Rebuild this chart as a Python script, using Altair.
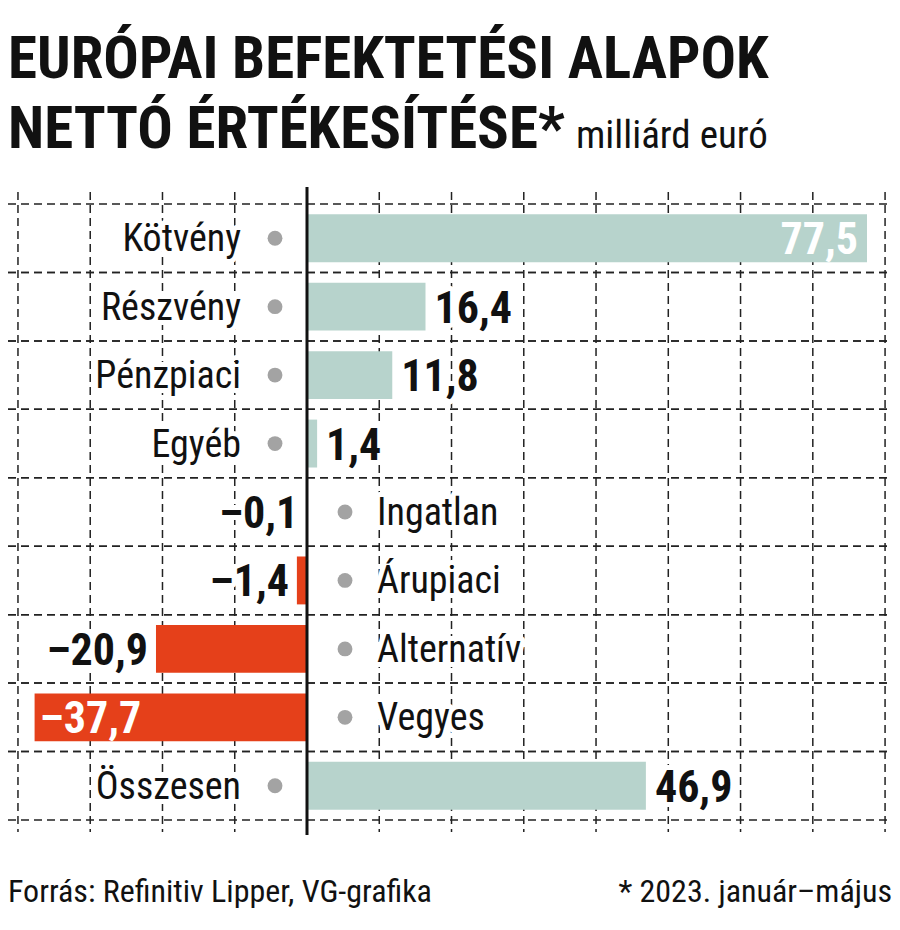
import altair as alt
import pandas as pd

categories = ["Kötvény", "Részvény", "Pénzpiaci", "Egyéb", "Ingatlan",
              "Árupiaci", "Alternatív", "Vegyes", "Összesen"]
values = [77.5, 16.4, 11.8, 1.4, -0.1, -1.4, -20.9, -37.7, 46.9]
value_labels = ["77,5", "16,4", "11,8", "1,4", "–0,1", "–1,4", "–20,9", "–37,7", "46,9"]
grid_ticks = [-40, -30, -20, -10, 0, 10, 20, 30, 40, 50, 60, 70, 80]

title_lines = ["EURÓPAI BEFEKTETÉSI ALAPOK", "NETTÓ ÉRTÉKESÍTÉSE*"]
unit_text = "milliárd euró"
source_text = "Forrás: Refinitiv Lipper, VG-grafika"
note_text = "* 2023. január–május"

TEAL = "#b7d3cc"
ORANGE = "#e5401a"
DOT = "#a3a3a3"
INK = "#111111"
FONT = "Liberation Sans Narrow, Roboto Condensed, DejaVu Sans Condensed, sans-serif"

W, H = 884, 616
TOP, BOTTOM = 196, 100

df = pd.DataFrame({"cat": categories, "value": values, "label": value_labels})

x_scale = alt.Scale(domain=[-41.38, 80.96], nice=False, zero=False)
y_scale = alt.Scale(domain=categories, paddingInner=0, paddingOuter=0)
X = alt.X("value:Q", scale=x_scale, axis=None)
Y = alt.Y("cat:N", scale=y_scale, axis=None)
XZ = alt.X("zero:Q", scale=x_scale, axis=None)

base = alt.Chart(df).transform_calculate(zero="0")

grid_style = dict(stroke="#222", strokeWidth=1.5, strokeDash=[8, 5])

vgrid = alt.Chart(pd.DataFrame({"t": grid_ticks})).mark_rule(**grid_style).encode(
    x=alt.X("t:Q", scale=x_scale, axis=None),
    y=alt.value(-12), y2=alt.value(H + 12),
)

hgrid_top = base.mark_rule(**grid_style).encode(
    y=alt.Y("cat:N", scale=y_scale, axis=None, bandPosition=0),
    x=alt.value(0), x2=alt.value(W),
)
hgrid_bot = base.mark_rule(**grid_style).encode(
    y=alt.Y("cat:N", scale=y_scale, axis=None, bandPosition=1),
    x=alt.value(0), x2=alt.value(W),
)

bars = base.mark_bar(height=alt.RelativeBandSize(0.7)).encode(
    x=X, x2=alt.X2("zero:Q"), y=Y,
    color=alt.condition("datum.value < 0", alt.value(ORANGE), alt.value(TEAL)),
)

axis_line = alt.Chart(pd.DataFrame({"z": [0]})).mark_rule(stroke=INK, strokeWidth=3).encode(
    x=alt.X("z:Q", scale=x_scale, axis=None),
    y=alt.value(-17), y2=alt.value(H + 15),
)

pos = base.transform_filter("datum.value >= 0")
neg = base.transform_filter("datum.value < 0")

cat_style = dict(font=FONT, fontSize=38, baseline="middle", dy=2)
halo = dict(stroke="white", strokeWidth=10, strokeJoin="round")

cat_pos_halo = pos.mark_text(align="right", dx=-66, **cat_style, **halo).encode(
    x=XZ, y=Y, text="cat:N")
cat_pos = pos.mark_text(align="right", dx=-66, color=INK, **cat_style).encode(
    x=XZ, y=Y, text="cat:N")
cat_neg_halo = neg.mark_text(align="left", dx=70, **cat_style, **halo).encode(
    x=XZ, y=Y, text="cat:N")
cat_neg = neg.mark_text(align="left", dx=70, color=INK, **cat_style).encode(
    x=XZ, y=Y, text="cat:N")

dots_pos = pos.mark_circle(size=220, color=DOT, opacity=1, xOffset=-32).encode(
    x=XZ, y=Y)
dots_neg = neg.mark_circle(size=220, color=DOT, opacity=1, xOffset=38).encode(
    x=XZ, y=Y)

val_style = dict(font=FONT, fontSize=44, fontWeight="bold", baseline="middle", dy=3)

out_pos_f = base.transform_filter("datum.value >= 0 && datum.value <= 70")
out_neg_f = base.transform_filter("datum.value < 0 && datum.value >= -30")
in_pos_f = base.transform_filter("datum.value > 70")
in_neg_f = base.transform_filter("datum.value < -30")

out_pos_halo = out_pos_f.mark_text(align="left", dx=9, **val_style, **halo).encode(
    x=X, y=Y, text="label:N")
out_pos = out_pos_f.mark_text(align="left", dx=9, color=INK, **val_style).encode(
    x=X, y=Y, text="label:N")
out_neg_halo = out_neg_f.mark_text(align="right", dx=-8, **val_style, **halo).encode(
    x=X, y=Y, text="label:N")
out_neg = out_neg_f.mark_text(align="right", dx=-8, color=INK, **val_style).encode(
    x=X, y=Y, text="label:N")
in_pos = in_pos_f.mark_text(align="right", dx=-9, color="white", **val_style).encode(
    x=X, y=Y, text="label:N")
in_neg = in_neg_f.mark_text(align="left", dx=5, color="white", **val_style).encode(
    x=X, y=Y, text="label:N")

ann = pd.DataFrame({"k": [1]})
title1 = alt.Chart(ann).mark_text(
    text=title_lines[0], font=FONT, fontSize=59, fontWeight="bold", align="left",
    baseline="alphabetic", color=INK
).encode(x=alt.value(0), y=alt.value(78 - 8 - TOP))
title2 = alt.Chart(ann).mark_text(
    text=title_lines[1], font=FONT, fontSize=59, fontWeight="bold", align="left",
    baseline="alphabetic", color=INK
).encode(x=alt.value(0), y=alt.value(148 - 8 - TOP))
unit = alt.Chart(ann).mark_text(
    text=unit_text, font=FONT, fontSize=39, align="left",
    baseline="alphabetic", color=INK
).encode(x=alt.value(576 - 8), y=alt.value(148 - 8 - TOP))
source = alt.Chart(ann).mark_text(
    text=source_text, font=FONT, fontSize=32, align="left",
    baseline="alphabetic", color=INK
).encode(x=alt.value(0), y=alt.value(902 - 8 - TOP))
note = alt.Chart(ann).mark_text(
    text=note_text, font=FONT, fontSize=32, align="right",
    baseline="alphabetic", color=INK
).encode(x=alt.value(W), y=alt.value(902 - 8 - TOP))

chart = alt.layer(
    vgrid, hgrid_top, hgrid_bot, bars, axis_line,
    cat_pos_halo, cat_neg_halo, cat_pos, cat_neg, dots_pos, dots_neg,
    out_pos_halo, out_neg_halo, out_pos, out_neg, in_pos, in_neg,
    title1, title2, unit, source, note,
).properties(
    width=W, height=H,
    autosize=alt.AutoSizeParams(type="none"),
    padding={"left": 0, "top": TOP, "right": 0, "bottom": BOTTOM},
).configure_view(stroke=None)

chart.save("out.html", embed_options={"renderer": "svg", "actions": False})
